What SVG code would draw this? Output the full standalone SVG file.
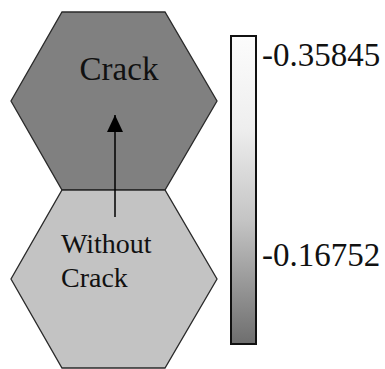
<svg xmlns="http://www.w3.org/2000/svg" width="385" height="369" viewBox="0 0 385 369">
<style>
.hex{stroke:#2a2a2a;stroke-width:1.3}
.t{font-family:"Liberation Serif","Times New Roman",serif;fill:#111}
</style>
<defs>
<linearGradient id="cb" x1="0" y1="0" x2="0" y2="1">
<stop offset="0" stop-color="#fcfcfc"/>
<stop offset="0.3" stop-color="#eeeeee"/>
<stop offset="0.6" stop-color="#c4c4c4"/>
<stop offset="1" stop-color="#6e6e6e"/>
</linearGradient>
<marker id="ah" markerWidth="17" markerHeight="16" refX="17" refY="8" orient="auto" markerUnits="userSpaceOnUse" viewBox="0 0 17 16">
<path d="M0 0 L17 8 L0 16 Z" fill="#000"/>
</marker>
</defs>
<rect width="385" height="369" fill="#fff"/>
<g id="node-crack">
<polygon class="hex" points="62,12 165,12 217,101 165,190 62,190 11,101" fill="#808080"/>
<text class="t" x="119" y="80" font-size="33" text-anchor="middle">Crack</text>
</g>
<g id="node-without-crack">
<polygon class="hex" points="62,190 165,190 217,279 165,368 62,368 11,279" fill="#c3c3c3"/>
<text class="t" x="61" y="253" font-size="28">Without</text>
<text class="t" x="61" y="287" font-size="28">Crack</text>
</g>
<g id="connectors">
<line x1="115" y1="217" x2="115" y2="115" stroke="#000" stroke-width="1.5" marker-end="url(#ah)"/>
</g>
<g id="colorbar">
<rect x="231" y="36" width="25" height="308" fill="url(#cb)" stroke="#111" stroke-width="2"/>
<text class="t" x="262" y="66" font-size="33">-0.35845</text>
<text class="t" x="262" y="266" font-size="33">-0.16752</text>
</g>
</svg>
